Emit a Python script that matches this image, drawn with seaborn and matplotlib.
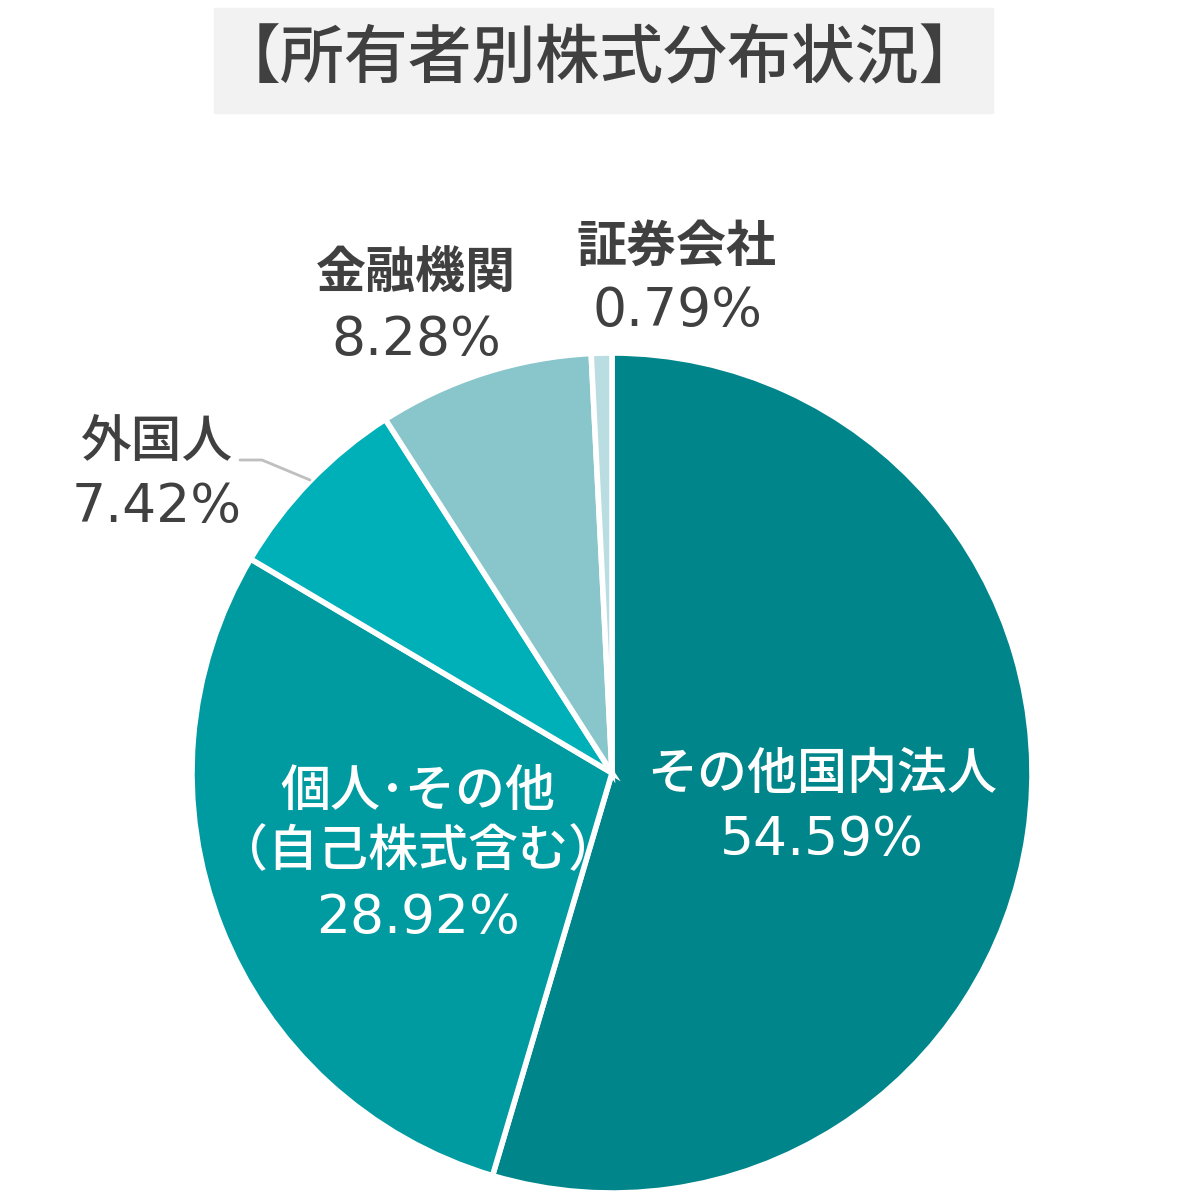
import matplotlib
matplotlib.use("Agg")
import matplotlib.pyplot as plt
from matplotlib.patches import Rectangle
import seaborn as sns

# data (clockwise from 12 o'clock)
labels = ["その他国内法人", "個人･その他\n（自己株式含む）", "外国人", "金融機関", "証券会社"]
shares = [54.59, 28.92, 7.42, 8.28, 0.79]
colors = ["#00858A", "#009BA1", "#00B0B8", "#89C6CC", "#B9DDE1"]

sns.set_style("white")
plt.rcParams["font.family"] = ["Noto Sans CJK JP", "DejaVu Sans"]
num_font = ["DejaVu Sans", "Noto Sans CJK JP"]

W, H = 1204, 1201
fig = plt.figure(figsize=(W / 100, H / 100), dpi=100)
ax = fig.add_axes([0, 0, 1, 1])


def py(y):
    # pixel row (from top) -> data y (from bottom)
    return H - y


cx, cy, r = 612, 773, 420
ax.pie(shares, colors=colors, startangle=90, counterclock=False,
       center=(cx, py(cy)), radius=r,
       wedgeprops=dict(edgecolor="white", linewidth=4))
ax.set_xlim(0, W)
ax.set_ylim(0, H)
ax.set_aspect("equal")
ax.axis("off")

# title box
fig.add_artist(Rectangle((214 / W, 1 - 113 / H), 779 / W, 105 / H,
                         transform=fig.transFigure, color="#F2F2F2", zorder=0))
ax.text(600, py(60), "【所有者別株式分布状況】", ha="center", va="center",
        fontsize=46, color="#404040", fontweight="medium")

dark = "#404040"
# inside labels
ax.text(822, py(775), labels[0], ha="center", va="center", fontsize=36, color="white",
        fontweight="medium")
ax.text(822, py(840), f"{shares[0]:.2f}%", ha="center", va="center", fontsize=38.5,
        color="white", family=num_font)
ax.text(418, py(822), labels[1], ha="center", va="center", fontsize=36, color="white",
        linespacing=1.25, fontweight="medium")
ax.text(418, py(918), f"{shares[1]:.2f}%", ha="center", va="center", fontsize=38.5,
        color="white", family=num_font)

# outside labels
ax.text(157, py(442), labels[2], ha="center", va="center", fontsize=36.5, color=dark,
        fontweight="medium")
ax.text(157, py(507), f"{shares[2]:.2f}%", ha="center", va="center", fontsize=38.5,
        color=dark, family=num_font)
ax.plot([240, 262, 310], [py(460), py(460), py(480)], color="#BFBFBF", lw=2)

ax.text(416, py(274), labels[3], ha="center", va="center", fontsize=36, color=dark,
        fontweight="bold")
ax.text(416, py(340), f"{shares[3]:.2f}%", ha="center", va="center", fontsize=38.5,
        color=dark, family=num_font)
ax.text(677, py(247), labels[4], ha="center", va="center", fontsize=36, color=dark,
        fontweight="bold")
ax.text(677, py(311), f"{shares[4]:.2f}%", ha="center", va="center", fontsize=38.5,
        color=dark, family=num_font)

fig.savefig("out.png", dpi=100)
